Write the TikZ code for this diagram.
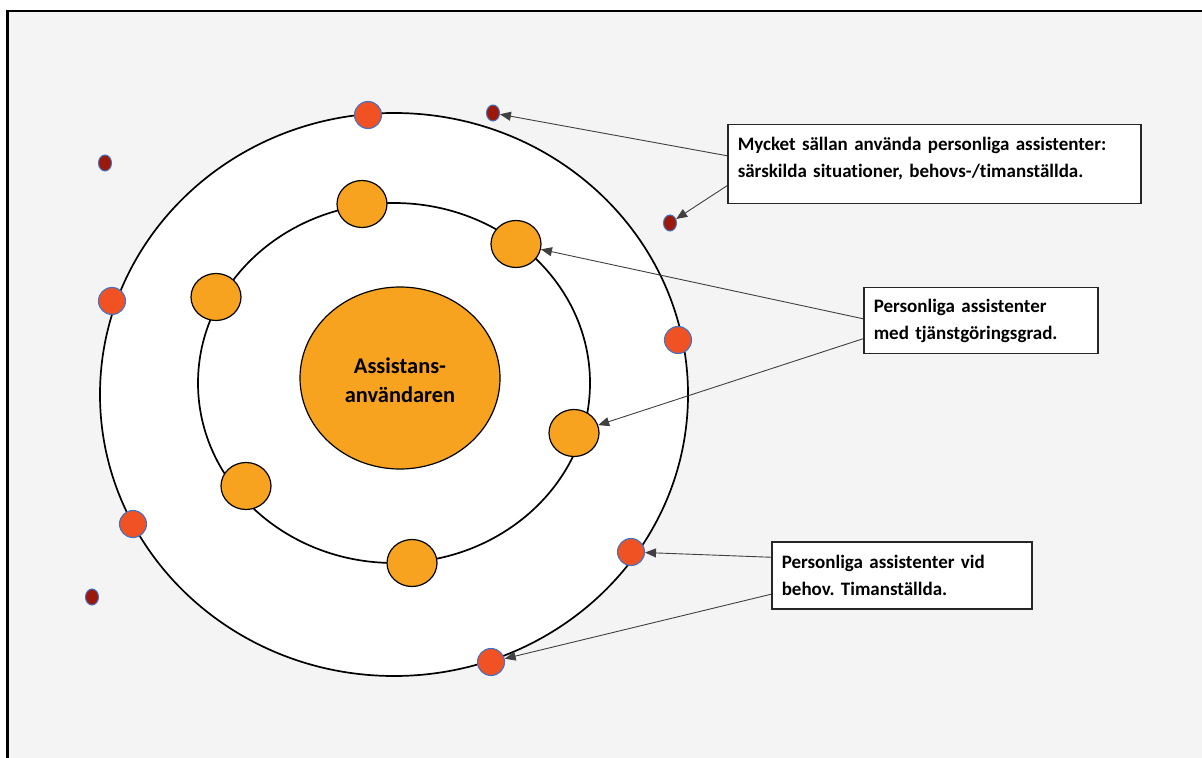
\documentclass[tikz,border=0pt]{standalone}
\usepackage{fontspec}
\setmainfont{Carlito}[Ligatures=NoCommon]
\usepackage{xcolor}
\usetikzlibrary{positioning}
\usetikzlibrary{arrows.meta,shapes.geometric}
\definecolor{bggray}{RGB}{244,244,244}
\definecolor{paorange}{RGB}{247,163,32}
\definecolor{dotred}{RGB}{240,82,36}
\definecolor{dotdark}{RGB}{155,25,10}
\definecolor{dotblue}{RGB}{68,114,196}
\frenchspacing

\begin{document}
\begin{tikzpicture}[x=0.5pt,y=-0.5pt,
  orb/.style={ellipse,draw=black,line width=0.85pt,fill=white,inner sep=0pt},
  pa/.style={ellipse,draw=black,line width=0.6pt,fill=paorange,minimum width=25pt,minimum height=23.5pt,inner sep=0pt},
  rd/.style={circle,draw=dotblue,line width=0.55pt,fill=dotred,minimum size=13.5pt,inner sep=0pt},
  sd/.style={ellipse,draw=dotblue,line width=0.5pt,fill=dotdark,minimum width=6.5pt,minimum height=8pt,inner sep=0pt},
  note/.style={draw=black!85,line width=0.75pt,fill=white,anchor=north west,align=left,inner xsep=5pt,font=\bfseries\fontsize{9.5}{13.5}\selectfont},
  arr/.style={-{Triangle[length=5.5pt,width=4.5pt]},draw=black!75,line width=0.45pt}]
\useasboundingbox (0,0) rectangle (1202,758);
\clip (0,0) rectangle (1202,758);
\filldraw[fill=bggray,line width=1.25pt] (7.5,11) rectangle (1220,780);
\node[orb,minimum width=294pt,minimum height=281.5pt] (outer) at (394,394.5) {};
\node[orb,minimum width=196pt,minimum height=180pt] (inner) at (394,383) {};
\node[pa,minimum width=100pt,minimum height=91pt,align=center,text height=24.5pt,font=\bfseries\fontsize{11.2}{14.5}\selectfont] (user) at (400,378) {Assistans-\\användaren};
\node[pa] (pa1) at (362,204) {};
\node[pa] (pa2) at (516,244) {};
\node[pa] (pa3) at (216,297) {};
\node[pa] (pa4) at (574,433) {};
\node[pa] (pa5) at (246,486) {};
\node[pa] (pa6) at (412,563) {};
\node[rd] (rd1) at (368,115) {};
\node[rd] (rd2) at (112,301) {};
\node[rd] (rd3) at (678,340) {};
\node[rd] (rd4) at (133,524) {};
\node[rd] (rd5) at (631,552) {};
\node[rd] (rd6) at (491,662) {};
\node[sd] (sd1) at (493,113) {};
\node[sd] (sd2) at (105,163) {};
\node[sd] (sd3) at (670,223) {};
\node[sd] (sd4) at (92,597) {};
\node[note,text width=196.5pt,minimum height=39.5pt,text depth=20pt] (note1) at (727,124) {Mycket sällan använda personliga assistenter:\\särskilda situationer, behovs-/timanställda.};
\node[note,text width=107pt,minimum height=33pt] (note2) at (863,287) {Personliga assistenter\\med tjänstgöringsgrad.};
\node[note,text width=120pt,minimum height=33.5pt] (note3) at (771,541) {Personliga assistenter vid\\behov. Timanställda.};
\draw[arr] ([yshift=4.25pt]note1.west) -- (sd1);
\draw[arr] ([yshift=-10.75pt]note1.west) -- (sd3);
\draw[arr] ([yshift=1pt]note2.west) -- (pa2);
\draw[arr] ([yshift=-9pt]note2.west) -- (pa4);
\draw[arr] ([yshift=9pt]note3.west) -- (rd5);
\draw[arr] ([yshift=-9.5pt]note3.west) -- (rd6);
\end{tikzpicture}
\end{document}
